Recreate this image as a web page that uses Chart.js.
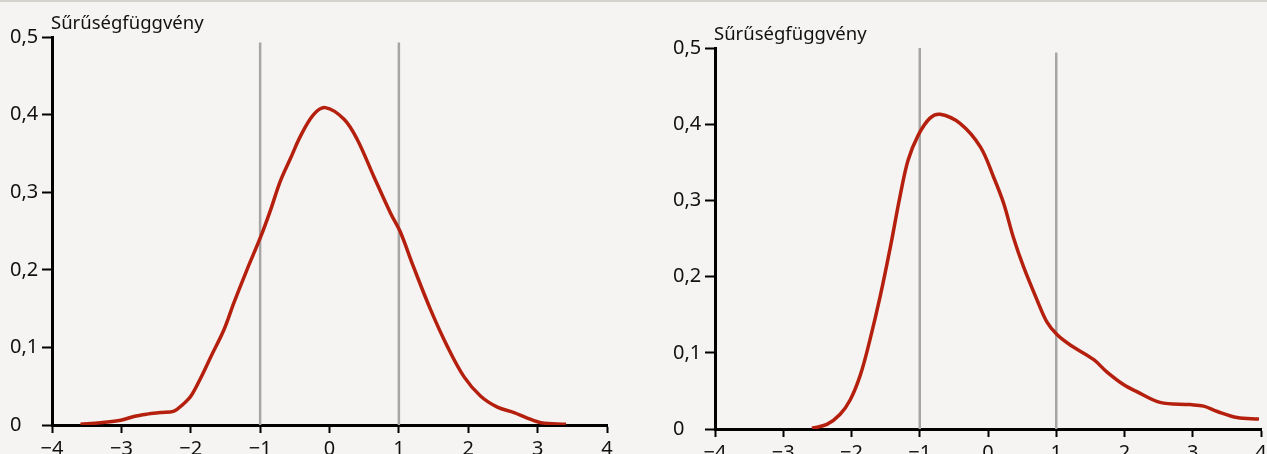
<!DOCTYPE html>
<html>
<head>
<meta charset="utf-8">
<script src="https://cdn.jsdelivr.net/npm/chart.js@4/dist/chart.umd.min.js"></script>
<style>
  html, body { margin: 0; padding: 0; background: #f5f4f2; }
  body { width: 1267px; height: 454px; position: relative; overflow: hidden; }
  #topline { position: absolute; left: 0; top: 0; width: 1267px; height: 2px; background: #d6d2ce; z-index: 2; }
  .box { position: absolute; top: 0; }
</style>
</head>
<body>
<div id="topline"></div>
<div class="box" style="left:0"><canvas id="left" width="633" height="454"></canvas></div>
<div class="box" style="left:633px"><canvas id="right" width="660" height="454"></canvas></div>
<script>
// adatok
const yTitle = 'Sűrűségfüggvény';
const xTicks = [-4, -3, -2, -1, 0, 1, 2, 3, 4];
const yTicks = [0, 0.1, 0.2, 0.3, 0.4, 0.5];

// bal: szimmetrikus sűrűség
const leftX = [-3.59, -3.30, -3.01, -2.82, -2.63, -2.44, -2.24, -2.12, -2.00, -1.86, -1.71, -1.52, -1.38, -1.19, -0.99,
  -0.85, -0.71, -0.56, -0.42, -0.23, -0.06, 0.21, 0.40, 0.64, 0.88, 1.02, 1.21, 1.46, 1.70, 1.94, 2.18,
  2.42, 2.66, 2.85, 3.05, 3.41];
const leftY = [0.001, 0.003, 0.006, 0.011, 0.014, 0.016, 0.018, 0.026, 0.037, 0.060, 0.088, 0.123, 0.157, 0.200, 0.243,
  0.277, 0.314, 0.344, 0.372, 0.400, 0.409, 0.394, 0.368, 0.320, 0.273, 0.249, 0.204, 0.148, 0.101, 0.062, 0.037,
  0.023, 0.016, 0.009, 0.003, 0.001];

// jobb: ferde sűrűség
const rightX = [-2.58, -2.36, -2.17, -2.02, -1.87, -1.73, -1.58, -1.43, -1.29, -1.17, -1.02, -0.85, -0.70, -0.41,
  -0.11, 0.08, 0.23, 0.37, 0.52, 0.72, 0.86, 1.01, 1.21, 1.55, 1.74, 1.99, 2.18, 2.52, 2.96,
  3.16, 3.36, 3.65, 3.97];
const rightY = [0.001, 0.006, 0.019, 0.038, 0.071, 0.117, 0.174, 0.239, 0.305, 0.353, 0.386, 0.408, 0.413, 0.401,
  0.370, 0.331, 0.296, 0.252, 0.213, 0.169, 0.141, 0.124, 0.110, 0.091, 0.075, 0.058, 0.049, 0.035, 0.032,
  0.030, 0.023, 0.015, 0.013];

// függőleges vonalak (-1 és 1)
const refX = [-1, 1];
const leftRefTop = [0.493, 0.493];
const rightRefTop = [0.5, 0.494];

const FONT = "'Noto Sans', 'DejaVu Sans', sans-serif";

function fmt(v) {
  if (v === 0) return '0';
  const s = Number.isInteger(v) ? String(Math.abs(v)) : Math.abs(v).toFixed(1).replace('.', ',');
  return (v < 0 ? '\u2212' : '') + s;
}

const titlePlugin = {
  id: 'ytitle',
  afterDraw(chart) {
    const ctx = chart.ctx;
    const a = chart.chartArea;
    ctx.save();
    ctx.fillStyle = '#111';
    ctx.font = '18.5px ' + FONT;
    ctx.textAlign = 'left';
    ctx.textBaseline = 'alphabetic';
    ctx.fillText(yTitle, a.left - 1, a.top - 8);
    ctx.restore();
  }
};

function makeChart(id, xs, ys, refTop, opt) {
  const curve = xs.map((x, i) => ({ x: x, y: ys[i] }));
  const refSets = refX.map((x, i) => ({
    data: [{ x: x, y: 0 }, { x: x, y: refTop[i] }],
    borderColor: '#a6a6a6',
    borderWidth: 2.5,
    pointRadius: 0,
    order: 2
  }));
  return new Chart(document.getElementById(id), {
    type: 'line',
    data: {
      datasets: refSets.concat([{
        data: curve,
        borderColor: '#b5200e',
        borderWidth: 3.5,
        pointRadius: 0,
        tension: 0.35,
        order: 1
      }])
    },
    options: {
      responsive: false,
      animation: false,
      layout: { padding: { top: opt.top, right: opt.right, bottom: 0, left: opt.left } },
      plugins: { legend: { display: false }, tooltip: { enabled: false } },
      scales: {
        x: {
          type: 'linear',
          min: -4, max: 4,
          afterBuildTicks: s => { s.ticks = xTicks.map(v => ({ value: v })); },
          afterFit: s => { s.height = opt.xh; },
          ticks: {
            color: '#111',
            font: { family: FONT, size: 20, lineHeight: 1 },
            padding: 6,
            maxRotation: 0,
            autoSkip: false,
            callback: v => fmt(v)
          },
          grid: { drawOnChartArea: false, drawTicks: true, tickLength: 8, tickColor: '#000', tickWidth: 2 },
          border: { display: true, color: '#000', width: 3 }
        },
        y: {
          min: 0, max: 0.5,
          afterBuildTicks: s => { s.ticks = yTicks.map(v => ({ value: v })); },
          afterFit: s => { s.width = opt.yw; },
          ticks: {
            color: '#111',
            font: { family: FONT, size: 20, lineHeight: 1 },
            padding: 4,
            crossAlign: 'far',
            autoSkip: false,
            callback: v => fmt(Math.round(v * 10) / 10)
          },
          grid: { drawOnChartArea: false, drawTicks: true, tickLength: 10, tickColor: '#000', tickWidth: 2 },
          border: { display: true, color: '#000', width: 3 }
        }
      }
    },
    plugins: [titlePlugin]
  });
}

makeChart('left', leftX, leftY, leftRefTop, { top: 37, right: 26, left: 10, yw: 42, xh: 29 });
makeChart('right', rightX, rightY, rightRefTop, { top: 48, right: 32, left: 40, yw: 42, xh: 25 });
</script>
</body>
</html>
